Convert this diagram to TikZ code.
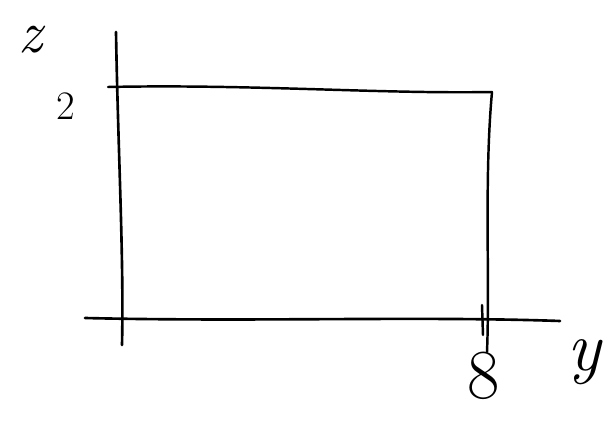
\documentclass[tikz,border=0pt]{standalone}
\usepackage{amsmath}
\usepackage{fix-cm}
\usetikzlibrary{calc}

\tikzset{
  axisline/.style={black, line width=1.5pt, line cap=round},
  boxline/.style={black, line width=1.4pt, line cap=round},
  sketchlabel/.style={font=\fontsize{#1}{#1}\selectfont}
}

\begin{document}
\begin{tikzpicture}[x=0.02cm, y=-0.02cm]
  \useasboundingbox (0,0) rectangle (610,429);
  % --- Axes ---
  \coordinate (zTop) at (116,32);
  \coordinate (zBot) at (122,345);
  \coordinate (yLeft) at (85,318);
  \coordinate (yRight) at (560,321);
  \draw[axisline] (zTop) .. controls (118,150) and (124,260) .. (zBot);
  \draw[axisline] (yLeft) .. controls (250,322) and (420,316) .. (yRight);
  % --- Rectangle (y from 0 to 8, z from 0 to 2) ---
  \coordinate (topLeft) at (108,87);
  \coordinate (topRight) at (492,92);
  \coordinate (botRight) at (487,352);
  \draw[boxline] (topLeft) .. controls (250,84) and (380,94) .. (topRight);
  \draw[boxline] (topRight) .. controls (484,180) and (490,280) .. (botRight);
  % --- Tick at y=8 ---
  \draw[boxline] (482,305) -- (483,335);
  % --- Labels ---
  \node[sketchlabel=34] (zLab) at (30,40) {\itshape z};
  \node[sketchlabel=23] (twoLab) at (66,106) {2};
  \node[sketchlabel=40] (eightLab) at (484,376) {8};
  \node[sketchlabel=40] (yLab) at (584,362) {\itshape y};
\end{tikzpicture}
\end{document}
